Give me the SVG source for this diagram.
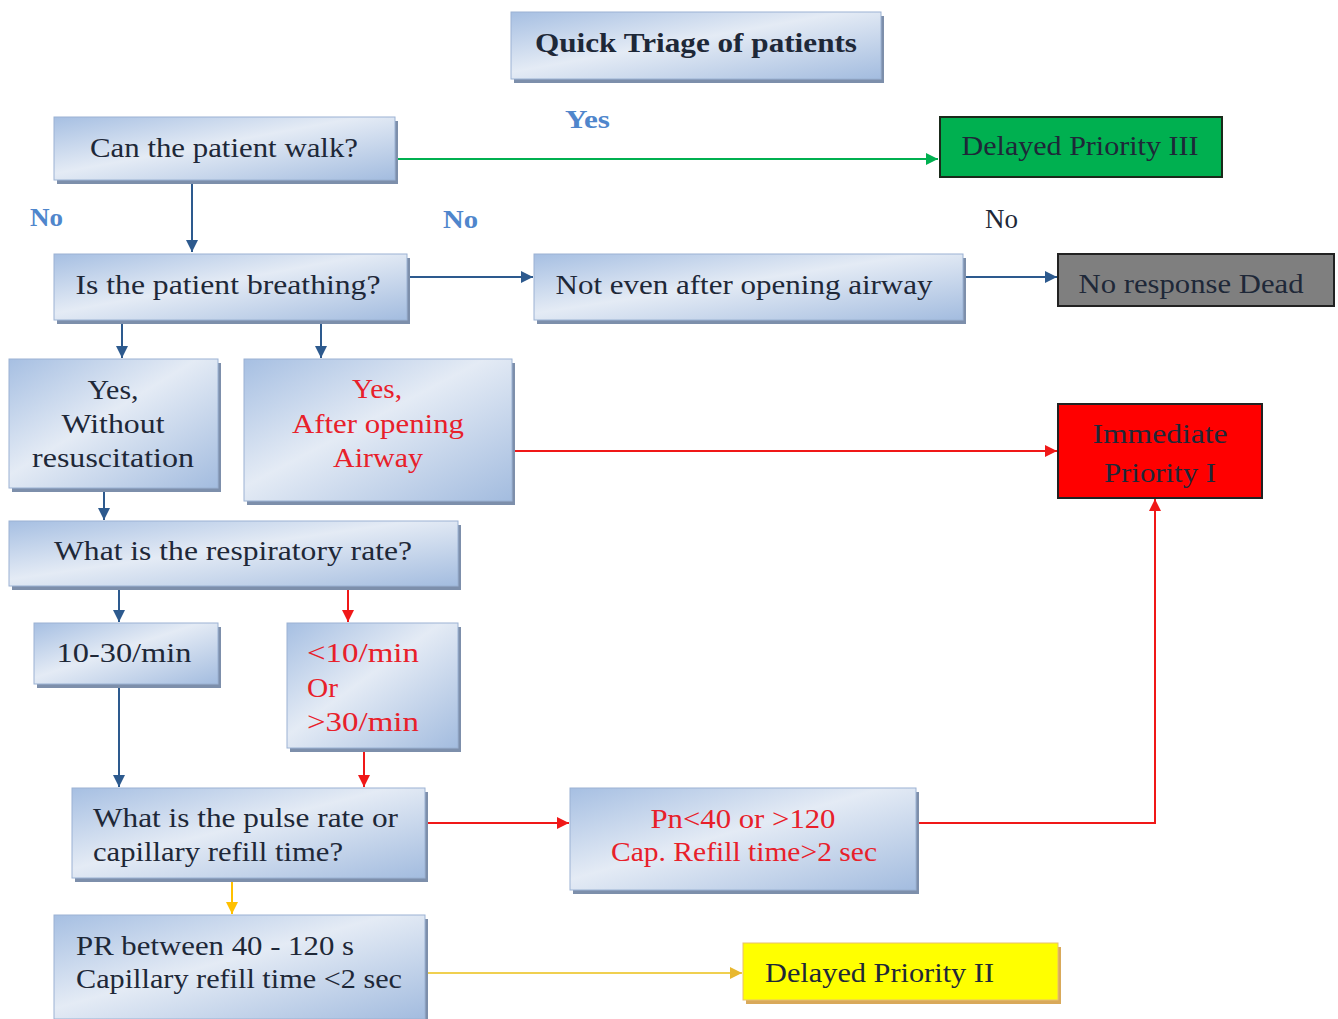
<svg xmlns="http://www.w3.org/2000/svg" width="1338" height="1019" viewBox="0 0 1338 1019">
<defs>
<linearGradient id="g" x1="0" y1="0" x2="1" y2="1">
<stop offset="0" stop-color="#a6bfe2"/>
<stop offset="0.45" stop-color="#e4ebf5"/>
<stop offset="1" stop-color="#a3bcdf"/>
</linearGradient>
<marker id="ab" viewBox="0 0 10 10" refX="10" refY="5" markerWidth="12" markerHeight="12" markerUnits="userSpaceOnUse" orient="auto"><path d="M0,0 L10,5 L0,10 Z" fill="#2d5a8e"/></marker>
<marker id="ar" viewBox="0 0 10 10" refX="10" refY="5" markerWidth="12" markerHeight="12" markerUnits="userSpaceOnUse" orient="auto"><path d="M0,0 L10,5 L0,10 Z" fill="#f01818"/></marker>
<marker id="ag" viewBox="0 0 10 10" refX="10" refY="5" markerWidth="12" markerHeight="12" markerUnits="userSpaceOnUse" orient="auto"><path d="M0,0 L10,5 L0,10 Z" fill="#00b050"/></marker>
<marker id="ao" viewBox="0 0 10 10" refX="10" refY="5" markerWidth="12" markerHeight="12" markerUnits="userSpaceOnUse" orient="auto"><path d="M0,0 L10,5 L0,10 Z" fill="#ffc000"/></marker>
<marker id="ay" viewBox="0 0 10 10" refX="10" refY="5" markerWidth="12" markerHeight="12" markerUnits="userSpaceOnUse" orient="auto"><path d="M0,0 L10,5 L0,10 Z" fill="#e8b830"/></marker>
</defs>
<style>
text{font-family:"Liberation Serif","Times New Roman",serif;font-size:28px;fill:#1e2838}
.c{text-anchor:middle}
.red{fill:#e8202a}
.box{fill:url(#g);stroke:#9bb2d3;stroke-width:1}
.sh{fill:#7d8fab}
.lbl{font-weight:bold;fill:#4f86cc;font-size:26px}
.b{fill:none;stroke:#2d5a8e;stroke-width:2}
.r{fill:none;stroke:#f01818;stroke-width:2}
</style>
<rect width="1338" height="1019" fill="#ffffff"/>

<g id="title">
<rect class="sh" x="514" y="16" width="370" height="67"/>
<rect class="box" x="511" y="12" width="370" height="67"/>
<text class="c" x="696" y="52" font-weight="bold" font-size="29" fill="#111" textLength="322" lengthAdjust="spacingAndGlyphs">Quick Triage of patients</text>
</g>

<g id="labels">
<text class="lbl" x="565" y="128" textLength="45" lengthAdjust="spacingAndGlyphs">Yes</text>
<text class="lbl" x="30" y="226" textLength="33" lengthAdjust="spacingAndGlyphs">No</text>
<text class="lbl" x="443" y="228" textLength="35" lengthAdjust="spacingAndGlyphs">No</text>
<text x="985" y="228" font-size="26" fill="#111" textLength="33" lengthAdjust="spacingAndGlyphs">No</text>
</g>

<g id="connectors">
<line x1="395" y1="159" x2="938" y2="159" stroke="#00b050" stroke-width="2" marker-end="url(#ag)"/>
<line class="b" x1="192" y1="180" x2="192" y2="252" marker-end="url(#ab)"/>
<line class="b" x1="407" y1="277" x2="533" y2="277" marker-end="url(#ab)"/>
<line class="b" x1="963" y1="277" x2="1057" y2="277" marker-end="url(#ab)"/>
<line class="b" x1="122" y1="320" x2="122" y2="358" marker-end="url(#ab)"/>
<line class="b" x1="321" y1="320" x2="321" y2="358" marker-end="url(#ab)"/>
<line class="r" x1="512" y1="451" x2="1057" y2="451" marker-end="url(#ar)"/>
<line class="b" x1="104" y1="488" x2="104" y2="520" marker-end="url(#ab)"/>
<line class="b" x1="119" y1="586" x2="119" y2="622" marker-end="url(#ab)"/>
<line class="r" x1="348" y1="586" x2="348" y2="622" marker-end="url(#ar)"/>
<line class="b" x1="119" y1="684" x2="119" y2="787" marker-end="url(#ab)"/>
<line class="r" x1="364" y1="748" x2="364" y2="787" marker-end="url(#ar)"/>
<line class="r" x1="425" y1="823" x2="569" y2="823" marker-end="url(#ar)"/>
<polyline class="r" points="916,823 1155,823 1155,499" marker-end="url(#ar)"/>
<line x1="232" y1="878" x2="232" y2="914" stroke="#ffc000" stroke-width="2" marker-end="url(#ao)"/>
<line x1="425" y1="973" x2="742" y2="973" stroke="#f0d050" stroke-width="2" marker-end="url(#ay)"/>
</g>

<g id="walk">
<rect class="sh" x="57" y="121" width="341" height="63"/>
<rect class="box" x="54" y="117" width="341" height="63"/>
<text class="c" x="224" y="157" textLength="268" lengthAdjust="spacingAndGlyphs">Can the patient walk?</text>
</g>

<g id="delayed3">
<rect x="940" y="117" width="282" height="60" fill="#00b050" stroke="#1a2a1a" stroke-width="2"/>
<text class="c" x="1080" y="155" fill="#0f3a1c" textLength="237" lengthAdjust="spacingAndGlyphs">Delayed Priority III</text>
</g>

<g id="breathing">
<rect class="sh" x="57" y="258" width="353" height="66"/>
<rect class="box" x="54" y="254" width="353" height="66"/>
<text class="c" x="228" y="294" textLength="305" lengthAdjust="spacingAndGlyphs">Is the patient breathing?</text>
</g>

<g id="notEven">
<rect class="sh" x="537" y="258" width="429" height="66"/>
<rect class="box" x="534" y="254" width="429" height="66"/>
<text class="c" x="744" y="294" textLength="377" lengthAdjust="spacingAndGlyphs">Not even after opening airway</text>
</g>

<g id="dead">
<rect x="1058" y="254" width="276" height="52" fill="#7f7f7f" stroke="#222" stroke-width="2"/>
<text class="c" x="1191" y="293" fill="#1a1a1a" textLength="225" lengthAdjust="spacingAndGlyphs">No response Dead</text>
</g>

<g id="withoutResus">
<rect class="sh" x="12" y="363" width="209" height="129"/>
<rect class="box" x="9" y="359" width="209" height="129"/>
<text class="c" x="113" y="399" textLength="51" lengthAdjust="spacingAndGlyphs">Yes,</text>
<text class="c" x="113" y="433" textLength="103" lengthAdjust="spacingAndGlyphs">Without</text>
<text class="c" x="113" y="467" textLength="162" lengthAdjust="spacingAndGlyphs">resuscitation</text>
</g>

<g id="afterAirway">
<rect class="sh" x="247" y="363" width="268" height="142"/>
<rect class="box" x="244" y="359" width="268" height="142"/>
<text class="c red" x="377" y="398" textLength="50" lengthAdjust="spacingAndGlyphs">Yes,</text>
<text class="c red" x="378" y="433" textLength="172" lengthAdjust="spacingAndGlyphs">After opening</text>
<text class="c red" x="378" y="467" textLength="90" lengthAdjust="spacingAndGlyphs">Airway</text>
</g>

<g id="immediate">
<rect x="1058" y="404" width="204" height="94" fill="#ff0000" stroke="#222" stroke-width="2"/>
<text class="c" x="1160" y="443" fill="#8a0a0a" textLength="135" lengthAdjust="spacingAndGlyphs">Immediate</text>
<text class="c" x="1160" y="482" fill="#8a0a0a" textLength="112" lengthAdjust="spacingAndGlyphs">Priority I</text>
</g>

<g id="respRate">
<rect class="sh" x="12" y="525" width="449" height="65"/>
<rect class="box" x="9" y="521" width="449" height="65"/>
<text class="c" x="233" y="560" textLength="358" lengthAdjust="spacingAndGlyphs">What is the respiratory rate?</text>
</g>

<g id="normalRate">
<rect class="sh" x="37" y="627" width="184" height="61"/>
<rect class="box" x="34" y="623" width="184" height="61"/>
<text class="c" x="124" y="662" textLength="135" lengthAdjust="spacingAndGlyphs">10-30/min</text>
</g>

<g id="abnormalRate">
<rect class="sh" x="290" y="627" width="171" height="125"/>
<rect class="box" x="287" y="623" width="171" height="125"/>
<text class="red" x="307" y="662" textLength="112" lengthAdjust="spacingAndGlyphs">&lt;10/min</text>
<text class="red" x="307" y="697" textLength="31" lengthAdjust="spacingAndGlyphs">Or</text>
<text class="red" x="307" y="731" textLength="112" lengthAdjust="spacingAndGlyphs">&gt;30/min</text>
</g>

<g id="pulse">
<rect class="sh" x="75" y="792" width="353" height="90"/>
<rect class="box" x="72" y="788" width="353" height="90"/>
<text x="93" y="827" textLength="305" lengthAdjust="spacingAndGlyphs">What is the pulse rate or</text>
<text x="93" y="861" textLength="250" lengthAdjust="spacingAndGlyphs">capillary refill time?</text>
</g>

<g id="abnormalPulse">
<rect class="sh" x="573" y="792" width="346" height="102"/>
<rect class="box" x="570" y="788" width="346" height="102"/>
<text class="c red" x="743" y="828" textLength="185" lengthAdjust="spacingAndGlyphs">Pn&lt;40 or &gt;120</text>
<text class="c red" x="744" y="861" textLength="266" lengthAdjust="spacingAndGlyphs">Cap. Refill time&gt;2 sec</text>
</g>

<g id="normalPulse">
<rect class="sh" x="57" y="919" width="371" height="104"/>
<rect class="box" x="54" y="915" width="371" height="104"/>
<text x="76" y="955" textLength="278" lengthAdjust="spacingAndGlyphs">PR between 40 - 120 s</text>
<text x="76" y="988" textLength="326" lengthAdjust="spacingAndGlyphs">Capillary refill time &lt;2 sec</text>
</g>

<g id="delayed2">
<rect x="746" y="947" width="315" height="57" fill="#d9a95a"/>
<rect x="743" y="943" width="315" height="57" fill="#ffff00" stroke="#e8c070" stroke-width="1"/>
<text x="765" y="982" fill="#2a2a10" textLength="229" lengthAdjust="spacingAndGlyphs">Delayed Priority II</text>
</g>
</svg>
